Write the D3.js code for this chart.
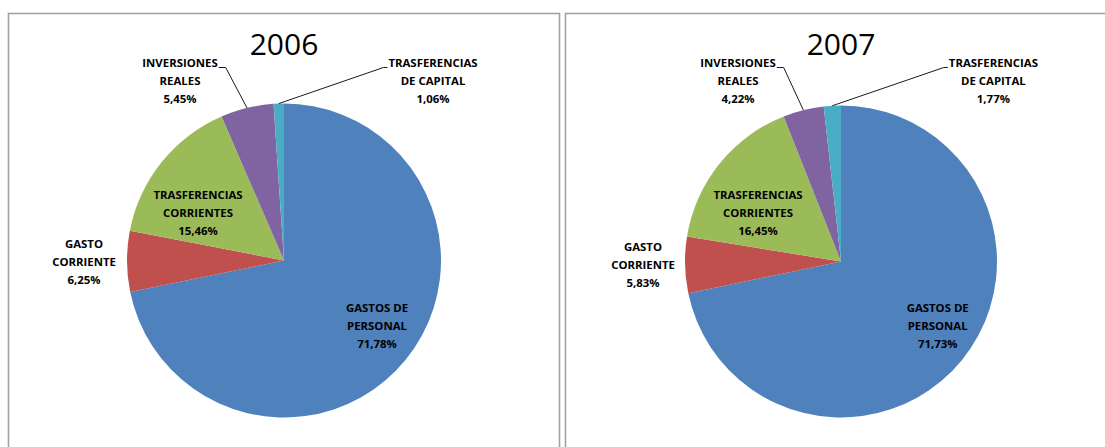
<!DOCTYPE html>
<html>
<head>
<meta charset="utf-8">
<script src="https://cdn.jsdelivr.net/npm/d3@7/dist/d3.min.js"></script>
<style>
  html, body { margin: 0; padding: 0; background: #fff; }
  svg { display: block; }
</style>
</head>
<body>
<svg id="chart" width="1105" height="447"></svg>
<script>
// ---- data ----
const years = ["2006", "2007"];
const categories = ["GASTOS DE PERSONAL", "GASTO CORRIENTE", "TRASFERENCIAS CORRIENTES", "INVERSIONES REALES", "TRASFERENCIAS DE CAPITAL"];
const categoryLines = [["GASTOS DE", "PERSONAL"], ["GASTO", "CORRIENTE"], ["TRASFERENCIAS", "CORRIENTES"], ["INVERSIONES", "REALES"], ["TRASFERENCIAS", "DE CAPITAL"]];
const values2006 = [71.78, 6.25, 15.46, 5.45, 1.06];
const values2007 = [71.73, 5.83, 16.45, 4.22, 1.77];
const seriesValues = [values2006, values2007];
const colors = ["#4F81BD", "#C0504D", "#9BBB59", "#8064A2", "#4BACC6"];

// ---- layout ----
const panels = [
  { x: 8.5, y: 13.5, w: 551, h: 460, cx: 284, cy: 260.5, r: 157,
    labels: [[93, 47.8], [-200, -16.5], [-86, -65.5], [-104, -197.5], [149, -197.5]] },
  { x: 565.5, y: 13.5, w: 560, h: 460, cx: 841, cy: 261.5, r: 156,
    labels: [[96.7, 46.8], [-198, -14.2], [-83, -66.5], [-103, -198.5], [152.4, -198.5]] }
];
const leaderFor = [false, false, false, true, true];

const locale = d3.formatLocale({ decimal: ",", thousands: ".", grouping: [3], currency: ["", "€"] });
const fmt = locale.format(".2f");

const svg = d3.select("#chart");
const pie = d3.pie().sort(null).value(d => d);

panels.forEach((p, pi) => {
  // panel border
  svg.append("rect")
    .attr("x", p.x).attr("y", p.y).attr("width", p.w).attr("height", p.h)
    .attr("fill", "none").attr("stroke", "#a3a3a3").attr("stroke-width", 1.6);

  const g = svg.append("g").attr("transform", `translate(${p.cx},${p.cy})`);
  const arcs = pie(seriesValues[pi]);
  const arc = d3.arc().innerRadius(0).outerRadius(p.r);
  const edgeArc = d3.arc().innerRadius(p.r).outerRadius(p.r);

  g.selectAll("path.slice").data(arcs).enter().append("path")
    .attr("class", "slice")
    .attr("d", arc)
    .attr("fill", (d, i) => colors[i]);

  // title
  svg.append("text")
    .attr("x", p.cx).attr("y", 55)
    .attr("text-anchor", "middle")
    .attr("font-family", "'Open Sans', sans-serif")
    .attr("font-size", 30)
    .attr("fill", "#000")
    .text(years[pi]);

  // labels
  arcs.forEach((d, i) => {
    const [lx, ly] = p.labels[i];
    const lines = categoryLines[i].concat([fmt(d.data) + "%"]);
    const t = g.append("text")
      .attr("text-anchor", "middle")
      .attr("font-family", "'Open Sans', sans-serif")
      .attr("font-weight", 700)
      .attr("font-size", 11.4)
      .attr("fill", "#000");
    lines.forEach((ln, k) => {
      t.append("tspan").attr("x", lx).attr("y", ly + 4 + k * 18).text(ln);
    });
    if (leaderFor[i]) {
      const firstW = t.select("tspan").node().getComputedTextLength();
      const baseY = ly + 4.5;
      const edge = edgeArc.centroid(d);
      let ax, bx;
      if (lx < 0) { ax = lx + firstW / 2 + 1; bx = ax + 7; }
      else { ax = lx - firstW / 2 - 1; bx = ax - 4; }
      g.append("polyline")
        .attr("points", `${ax},${baseY} ${bx},${baseY} ${edge[0]},${edge[1]}`)
        .attr("fill", "none").attr("stroke", "#000").attr("stroke-width", 0.9);
    }
  });
});
</script>
</body>
</html>
